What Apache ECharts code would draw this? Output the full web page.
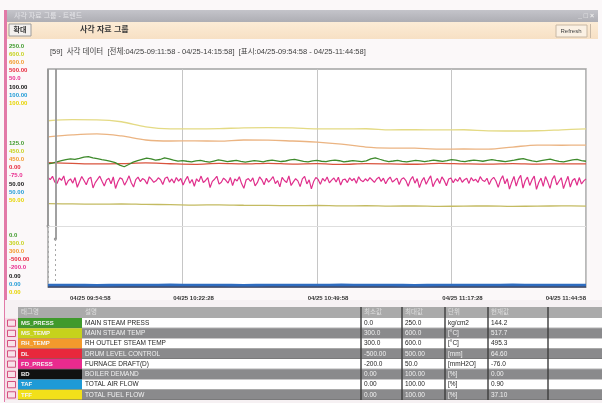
<!DOCTYPE html>
<html>
<head>
<meta charset="utf-8">
<script src="https://cdn.jsdelivr.net/npm/echarts@6/dist/echarts.min.js"></script>
<style>
  html, body { margin: 0; padding: 0; background: #fbf8f9; }
  #chart { width: 602px; height: 403px; }
</style>
</head>
<body>
<div id="chart"></div>
<script>
// ---- time axis ----
const tickLabels = ['04/25 09:54:58', '04/25 10:22:28', '04/25 10:49:58', '04/25 11:17:28', '04/25 11:44:58'];
const spanMinutes = 110;          // displayed window length

// ---- tag definitions ----
const tagNames = ['MS_PRESS', 'MS_TEMP', 'RH_TEMP', 'DL', 'FD_PRESS', 'BD', 'TAF', 'TFF'];
const descriptions = ['MAIN STEAM PRESS', 'MAIN STEAM TEMP', 'RH OUTLET STEAM TEMP', 'DRUM LEVEL CONTROL',
  'FURNACE DRAFT(D)', 'BOILER DEMAND', 'TOTAL AIR FLOW', 'TOTAL FUEL FLOW'];
const rangeMin = [0, 300, 300, -500, -200, 0, 0, 0];
const rangeMax = [250, 600, 600, 500, 50, 100, 100, 100];
const decimals = [1, 1, 1, 2, 1, 2, 2, 2];
const units = ['kg/cm2', '[°C]', '[°C]', '[mm]', '[mmH2O]', '[%]', '[%]', '[%]'];

// ---- trend values (samples evenly spaced over the window) ----
const mainSteamPress = [
  141.2,142.0,143.5,144.8,146.1,147.0,146.3,147.5,148.9,149.6,148.2,
  147.1,146.0,145.2,144.1,142.6,139.8,137.9,140.5,143.2,145.0,
  146.4,147.8,146.9,145.5,146.2,148.1,147.0,145.6,144.3,145.0,
  144.2,143.5,144.6,145.3,144.0,143.1,144.4,145.7,144.9,143.8,
  144.5,145.2,144.0,143.2,144.1,145.0,144.3,143.6,144.8,145.5,
  144.7,143.9,144.5,145.8,146.4,145.2,144.0,143.4,144.6,145.1,
  144.2,143.7,144.9,145.6,144.8,143.5,144.2,145.0,144.4,143.8,
  144.6,146.9,148.2,146.5,144.9,143.8,144.5,145.3,144.1,143.6,
  144.4,145.2,144.7,143.9,144.6,145.5,144.8,144.0,144.9,146.1,
  145.4,144.3,143.7,144.8,145.6,144.9,144.2,145.1,146.0,145.2,
  144.5,143.8,144.7,145.4,146.5,147.2,145.9,144.6,143.9,144.8,
  145.7,146.6,145.2,144.1,143.5,144.7,145.8,146.3,145.0,144.2
];
const mainSteamTemp = [528.8,530.2,530.0,527.4,520.5,517.7,517.5,517.9,519.1,519.3,518.9,517.7,
  517.6,517.8,516.3,516.5,516.2,516.4,514.9,514.7,515.0,516.3,517.7];
const rhOutletTemp = [506.5,509.3,510.7,507.9,502.3,500.9,501.1,500.8,502.3,502.1,500.9,499.5,
  496.7,492.6,491.2,491.0,489.8,489.9,489.7,492.6,495.3,495.1,495.3];
const drumLevel = [70.5,67.2,64.8,66.0,69.1,65.3,62.7,66.8,64.5,67.2,63.9,65.8,
  62.4,66.1,64.7,63.0,67.5,65.2,63.8,66.3,64.1,65.0,64.6];
const furnaceDraft = [
  -74.2,-76.8,-73.1,-79.5,-81.2,-75.0,-77.7,-72.6,-83.4,-78.1,-76.0,-80.9,-74.5,-85.6,-79.2,-73.3,-77.9,-82.7,-75.8,-74.1,-86.4,
  -80.3,-76.6,-72.9,-78.8,-84.1,-77.2,-75.4,-81.6,-73.8,-87.0,-79.6,-74.7,-76.3,-83.2,-78.4,-72.5,-80.5,-85.3,-76.9,
  -74.0,-79.1,-75.7,-77.4,-81.9,-73.6,-76.5,-80.0,-78.2,-74.8,-77.0,-82.4,-75.2,-73.9,-79.8,-76.1,-80.7,-74.4,-78.6,-75.5,
  -83.0,-77.5,-73.2,-81.1,-76.7,-84.5,-75.9,-79.3,-72.8,-80.2,-77.8,-74.6,-85.9,-78.9,-76.4,-73.0,-82.0,-79.9,-75.1,-77.6,
  -80.8,-74.3,-83.7,-76.2,-78.5,-73.5,-81.4,-86.8,-77.3,-75.6,-79.0,-74.9,-84.0,-80.4,-73.7,-77.1,-82.8,-75.3,-79.7,-76.8,
  -73.4,-81.5,-78.0,-85.2,-74.2,-77.9,-80.1,-72.7,-83.6,-79.4,-75.8,-78.3,-84.9,-76.0,-73.1,-81.8,-77.2,-87.4,-79.1,-74.5,
  -76.6,-82.3,-75.4,-78.7,-73.8,-80.6,-77.4,-75.0,-79.5,-74.1,-83.1,-77.0,-76.3,-80.3,-74.7,-78.1,-75.6,-81.0,-73.6,-77.7,
  -79.2,-75.9,-78.4,-74.6,-77.3,-80.0,-76.1,-74.0,-78.9,-75.2,-81.7,-76.7,-73.9,-79.6,-77.5,-75.1,-82.5,-76.4,-74.8,-78.0,
  -84.4,-77.1,-73.3,-80.9,-75.7,-86.1,-78.6,-74.4,-82.2,-76.9,-72.6,-85.0,-79.3,-75.5,-81.3,-73.7,-77.8,-83.9,-76.2,-74.9,
  -80.5,-76.0,-78.8,-74.3,-79.9,-77.0,-75.4,-81.2,-74.6,-78.2,-76.5,-80.1,-73.5,-77.6,-79.0,-75.3,-82.6,-76.8,-74.2,-78.5,
  -85.7,-77.4,-72.4,-81.6,-75.8,-87.8,-79.8,-73.2,-84.2,-76.3,-71.9,-86.5,-78.1,-74.0,-83.5,-77.2,-72.8,-88.0,-80.2,-75.1,
  -84.6,-73.4,-79.4,-86.9,-76.6,-72.3,-82.9,-78.7,-74.7,-87.2,-79.5,-73.0,-85.4,-77.9,-75.6,-83.3,-74.5,-81.9,-78.3,-76.0
];
const boilerDemand = [0,0,0,0,0,0,0,0,0,0,0,0,0,0,0,0,0,0,0,0,0,0,0];
const totalAirFlow = [0.9,0.9,0.8,0.9,0.9,1.0,0.9,0.9,0.8,0.9,0.9,0.9,1.0,0.9,0.9,0.8,0.9,0.9,0.9,1.0,0.9,0.9,0.9];
const totalFuelFlow = [38.2,38.1,38.0,38.1,37.9,37.8,37.6,37.7,37.5,37.4,37.3,37.4,
  37.2,37.3,37.1,37.2,37.0,37.1,37.2,37.0,37.1,37.2,37.1];

// cursors (minutes from window start) and where their solid part ends (% of trend height)
const cursorTimes = [0, 1.5];
const cursorStops = [28, 22];
const refLevel = 28;

// ---- styling ----
const tagColors  = ['#3f9a2c', '#c6d21c', '#f39a2c', '#e8283c', '#ea2a8e', '#111111', '#1f9ad6', '#f2e01a'];
const lineColors = ['#3e8a2c', '#e4da84', '#ebb482', '#d9543e', '#e0308c', '#1c2850', '#2e6cc0', '#c4bb62'];
const seriesData = [mainSteamPress, mainSteamTemp, rhOutletTemp, drumLevel, furnaceDraft, boilerDemand, totalAirFlow, totalFuelFlow];

const FONT = '"Liberation Sans", "Noto Sans CJK KR", sans-serif';

// pair each sample with its time (minutes from window start)
function toPairs(values) {
  const step = spanMinutes / (values.length - 1);
  return values.map((v, i) => [i * step, v]);
}

const chart = echarts.init(document.getElementById('chart'), null, { renderer: 'canvas' });

// one hidden value axis per tag so each trace uses its own engineering range
const yAxes = rangeMin.map((mn, i) => ({
  type: 'value', min: mn, max: rangeMax[i], show: false, splitLine: { show: false }
}));

const drawOrder = [1, 2, 7, 5, 6, 3, 0, 4];
const series = drawOrder.map(k => {
  const fast = seriesData[k].length > 60;
  const s = {
    name: descriptions[k],
    type: 'line',
    yAxisIndex: k,
    data: toPairs(seriesData[k]),
    showSymbol: false,
    symbol: 'none',
    smooth: fast ? false : 0.35,
    lineStyle: { color: lineColors[k], width: k === 6 ? 2.6 : (k === 4 ? 1.2 : 1.3) },
    animation: false,
    silent: true
  };
  if (k === 7) {
    const ml = [];
    cursorTimes.forEach((t, i) => {
      ml.push([{ coord: [t, 100], symbol: 'none', lineStyle: { color: '#979797', width: 1.8, type: 'solid' } },
               { coord: [t, cursorStops[i]], symbol: 'circle', symbolSize: 3 }]);
      ml.push([{ coord: [t, cursorStops[i]], symbol: 'none', lineStyle: { color: '#a6a6a6', width: 1, type: [2, 3] } },
               { coord: [t, 2], symbol: 'none' }]);
    });
    ml.push([{ coord: [0, refLevel], symbol: 'none', lineStyle: { color: '#dedede', width: 1, type: 'solid' } },
             { coord: [spanMinutes, refLevel], symbol: 'none' }]);
    s.markLine = { silent: true, animation: false, label: { show: false }, symbol: ['none', 'none'], data: ml };
  }
  return s;
});

// ---- frame, header, scale labels and the tag table ----
const g = [];
// window title bar
g.push({ type: 'rect', shape: { x: 5, y: 10, width: 593, height: 12 },
  style: { fill: new echarts.graphic.LinearGradient(0, 0, 0, 1, [{ offset: 0, color: '#c4c4ca' }, { offset: 1, color: '#aeaeb4' }]) } });
g.push({ type: 'text', x: 14, y: 16, style: { text: '사각 자료 그룹 - 트렌드', fill: '#e4e4e8', font: '7px ' + FONT, verticalAlign: 'middle' } });
g.push({ type: 'text', x: 594, y: 16, style: { text: '_ □ ×', fill: '#eeeeee', font: 'bold 7px ' + FONT, align: 'right', verticalAlign: 'middle' } });
// toolbar
g.push({ type: 'rect', shape: { x: 5, y: 22, width: 593, height: 17 },
  style: { fill: new echarts.graphic.LinearGradient(0, 0, 0, 1, [{ offset: 0, color: '#fcecd6' }, { offset: 1, color: '#f7e0c4' }]) } });
g.push({ type: 'rect', shape: { x: 9, y: 24, width: 22, height: 12 }, style: { fill: '#f3f0ee', stroke: '#9c9c9c', lineWidth: 1 } });
g.push({ type: 'text', x: 20, y: 30, style: { text: '확대', fill: '#333', font: 'bold 7px ' + FONT, align: 'center', verticalAlign: 'middle' } });
g.push({ type: 'text', x: 80, y: 30, style: { text: '사각 자료 그룹', fill: '#3a3a3a', font: 'bold 8px ' + FONT, verticalAlign: 'middle' } });
g.push({ type: 'rect', shape: { x: 556, y: 25, width: 31, height: 12 }, style: { fill: '#fbf1e4', stroke: '#c8b8a4', lineWidth: 1 } });
g.push({ type: 'text', x: 571, y: 31, style: { text: 'Refresh', fill: '#444', font: '6px ' + FONT, align: 'center', verticalAlign: 'middle' } });
g.push({ type: 'rect', shape: { x: 590, y: 24, width: 1, height: 14 }, style: { fill: '#c9b9a6' } });
// subtitle
g.push({ type: 'text', x: 50, y: 52, style: {
  text: '[59]  사각 데이터  [전체:04/25-09:11:58 - 04/25-14:15:58]  [표시:04/25-09:54:58 - 04/25-11:44:58]',
  fill: '#404040', font: '7.5px ' + FONT, verticalAlign: 'middle' } });
// left accent strip
g.push({ type: 'rect', shape: { x: 4, y: 10, width: 3, height: 392 }, style: { fill: '#e27aa8' } });

// scale labels: maximum, middle and minimum of each tag range
const groupTops = [46, 143, 235];
const lineGap = 8.2;
for (let i = 0; i < 8; i++) {
  const mid = (rangeMin[i] + rangeMax[i]) / 2;
  const vals = [rangeMax[i], mid, rangeMin[i]];
  vals.forEach((v, gi) => {
    g.push({ type: 'text', x: 9, y: groupTops[gi] + i * lineGap, style: {
      text: v.toFixed(decimals[i]), fill: tagColors[i] === '#f2e01a' ? '#e6d400' : tagColors[i],
      font: 'bold 6px ' + FONT, verticalAlign: 'middle' } });
  });
}

// tag table
const colX = [18, 82, 361, 402, 445, 488, 548, 602];
const headY = 307, headH = 11, rowH = 10.25;
const headers = ['태그명', '설명', '최소값', '최대값', '단위', '현재값', ''];
g.push({ type: 'rect', shape: { x: 5, y: 300, width: 597, height: 103 }, style: { fill: '#f6f1f3' } });
g.push({ type: 'rect', shape: { x: 18, y: headY, width: 584, height: headH }, style: { fill: '#aaaaaa' } });
headers.forEach((h, c) => {
  g.push({ type: 'text', x: colX[c] + 3, y: headY + headH / 2, style: { text: h, fill: '#dedede', font: '6.5px ' + FONT, verticalAlign: 'middle' } });
});
for (let i = 0; i < 8; i++) {
  const y = headY + headH + i * rowH;
  const dark = i % 2 === 1;
  const last = seriesData[i][seriesData[i].length - 1];
  const cells = [descriptions[i], rangeMin[i].toFixed(decimals[i]), rangeMax[i].toFixed(decimals[i]), units[i], last.toFixed(decimals[i]), ''];
  g.push({ type: 'rect', shape: { x: 5, y: y, width: 13, height: rowH }, style: { fill: '#f5dde6' } });
  g.push({ type: 'rect', shape: { x: 7.5, y: y + 2, width: 8, height: rowH - 4 }, style: { fill: '#f8e2ea', stroke: '#d4507e', lineWidth: 1 } });
  g.push({ type: 'rect', shape: { x: 18, y: y, width: 64, height: rowH }, style: { fill: tagColors[i] } });
  g.push({ type: 'text', x: 21, y: y + rowH / 2, style: { text: tagNames[i], fill: '#f4f4f4', font: 'bold 6px ' + FONT, verticalAlign: 'middle' } });
  g.push({ type: 'rect', shape: { x: 82, y: y, width: 520, height: rowH }, style: { fill: dark ? '#8a8a8c' : '#ffffff' } });
  cells.forEach((t, c) => {
    g.push({ type: 'text', x: colX[c + 1] + 3, y: y + rowH / 2, style: {
      text: t, fill: dark ? '#f2f2f2' : '#262626', font: '6.5px ' + FONT, verticalAlign: 'middle' } });
  });
  g.push({ type: 'rect', shape: { x: 18, y: y + rowH - 0.5, width: 584, height: 0.6 }, style: { fill: '#6a6a6a' } });
}
[361, 402, 445, 488, 548].forEach(x => {
  g.push({ type: 'rect', shape: { x: x - 0.7, y: headY, width: 1.4, height: headH + 8 * rowH }, style: { fill: '#3c3c3c' } });
});

chart.setOption({
  animation: false,
  backgroundColor: '#fbf8f9',
  textStyle: { fontFamily: FONT },
  grid: { left: 48, right: 16, top: 69, bottom: 116, show: true, backgroundColor: '#ffffff', borderColor: '#a2a2a2', borderWidth: 1.5 },
  xAxis: {
    type: 'value', min: 0, max: spanMinutes, interval: spanMinutes / 4,
    axisLine: { show: false }, axisTick: { show: false },
    splitLine: { show: true, lineStyle: { color: '#c6c6c6', width: 1 } },
    axisLabel: {
      formatter: v => tickLabels[Math.round(v / (spanMinutes / 4))],
      color: '#333', fontSize: 6, fontWeight: 'bold', margin: 8,
      padding: [0, 0, 0, 22], alignMinLabel: 'left', alignMaxLabel: 'right'
    }
  },
  yAxis: yAxes,
  series: series,
  graphic: { elements: g }
});
</script>
</body>
</html>
